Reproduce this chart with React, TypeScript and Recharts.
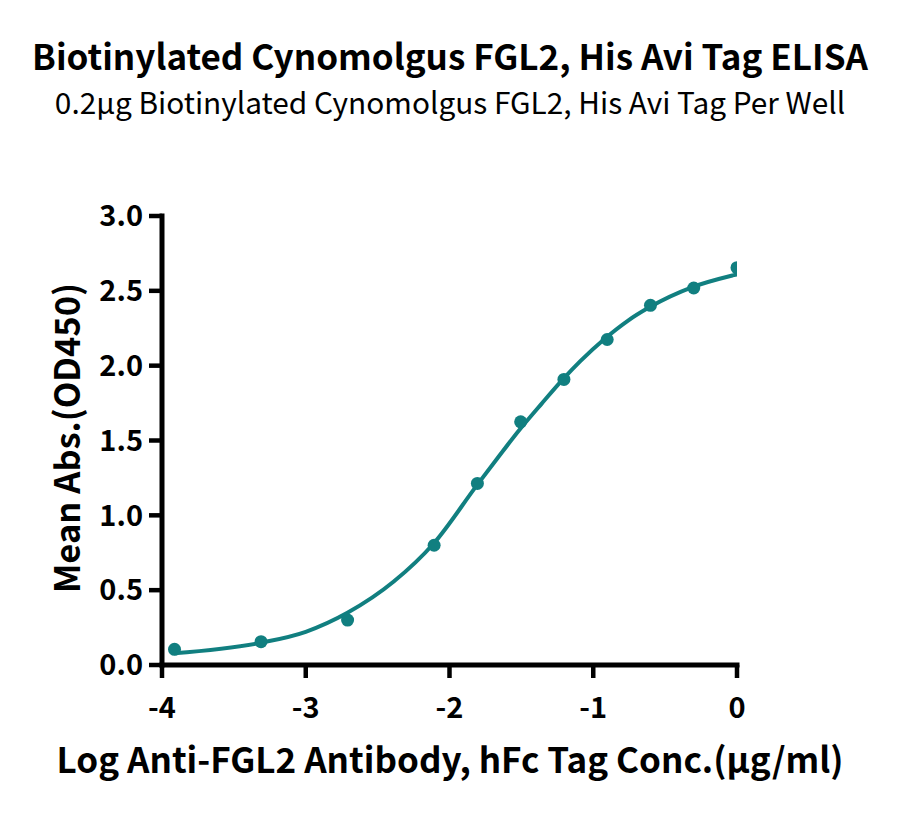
import React from 'react';
import { ComposedChart, Line, Scatter, XAxis, YAxis } from 'recharts';

// measured points: log concentration vs mean OD450
const logConc = [-3.913, -3.311, -2.709, -2.107, -1.806, -1.505, -1.204, -0.903, -0.602, -0.301, 0];
const meanAbs = [0.105, 0.156, 0.3, 0.8, 1.213, 1.625, 1.908, 2.175, 2.403, 2.519, 2.655];

// fitted curve
const curveX = [-3.916, -3.31, -3.0, -2.71, -2.39, -2.11, -1.81, -1.66, -1.51, -1.36, -1.21, -1.09, -0.92, -0.76, -0.61, -0.31, -0.03, 0];
const curveY = [0.078, 0.149, 0.222, 0.349, 0.556, 0.812, 1.2, 1.39, 1.575, 1.745, 1.91, 2.03, 2.18, 2.3, 2.39, 2.525, 2.603, 2.61];

const xTicks = [-4, -3, -2, -1, 0];
const yTicks = [0, 0.5, 1.0, 1.5, 2.0, 2.5, 3.0];

const points = logConc.map((x, i) => ({ x, y: meanAbs[i] }));
const curve = curveX.map((x, i) => ({ x, fit: curveY[i] }));

const TEAL = '#117f80';
const FONT = '"Noto Sans CJK SC", "Noto Sans", sans-serif';

const text = (top: number, size: number, weight: number): React.CSSProperties => ({
  position: 'absolute',
  left: 0,
  top,
  width: 900,
  textAlign: 'center',
  fontFamily: FONT,
  fontSize: size,
  fontWeight: weight,
  color: '#000',
  lineHeight: 1,
  whiteSpace: 'nowrap',
});

const axisLine = { stroke: '#000', strokeWidth: 5, strokeLinecap: 'square' as const };
const tickLine = { stroke: '#000', strokeWidth: 4.5 };
const tickFont = { fill: '#000', fontSize: 29, fontWeight: 700, fontFamily: FONT };

const App: React.FC = () => {
  return (
    <div style={{ position: 'absolute', left: 0, top: 0, width: 900, height: 815, background: '#fff' }}>
      <div style={text(37, 35, 700)}>Biotinylated Cynomolgus FGL2, His Avi Tag ELISA</div>
      <div style={text(87, 29.8, 400)}>0.2μg Biotinylated Cynomolgus FGL2, His Avi Tag Per Well</div>

      <ComposedChart
        width={900}
        height={815}
        margin={{ top: 216, right: 163, bottom: 110, left: 82 }}
        style={{ position: 'absolute', left: 0, top: 0 }}
      >
        <XAxis
          type="number"
          dataKey="x"
          domain={[-4, 0]}
          ticks={xTicks}
          allowDataOverflow
          height={40}
          axisLine={axisLine}
          tickLine={tickLine}
          tickSize={13}
          tickMargin={19}
          tick={tickFont}
        />
        <YAxis
          type="number"
          domain={[0, 3]}
          ticks={yTicks}
          width={80}
          axisLine={axisLine}
          tickLine={tickLine}
          tickSize={13}
          tickMargin={6}
          tickFormatter={(v: number) => v.toFixed(1)}
          tick={tickFont}
        />
        <Line
          data={curve}
          dataKey="fit"
          type="monotone"
          stroke={TEAL}
          strokeWidth={4}
          dot={false}
          activeDot={false}
          isAnimationActive={false}
        />
        <Scatter
          data={points}
          dataKey="y"
          fill={TEAL}
          isAnimationActive={false}
          shape={(p: any) => <circle cx={p.cx} cy={p.cy} r={6.5} fill={TEAL} />}
        />
      </ComposedChart>

      <div style={text(740, 35, 700)}>Log Anti-FGL2 Antibody, hFc Tag Conc.(μg/ml)</div>
      <div
        style={{
          position: 'absolute',
          left: 65,
          top: 438,
          transform: 'translate(-50%, -50%) rotate(-90deg)',
          fontFamily: FONT,
          fontSize: 34.5,
          fontWeight: 700,
          lineHeight: 1,
          whiteSpace: 'nowrap',
        }}
      >
        Mean Abs.(OD450)
      </div>
    </div>
  );
};

export default App;
